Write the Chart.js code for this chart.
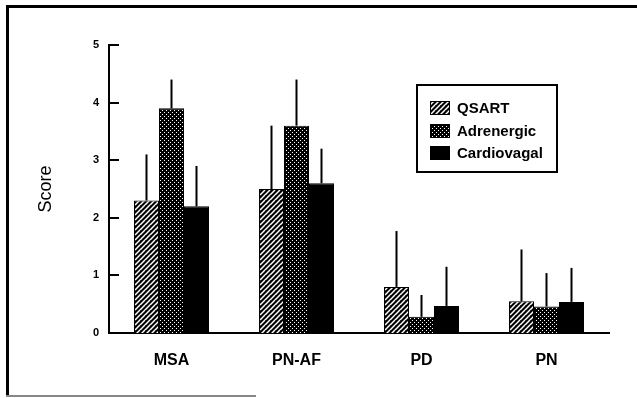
<!DOCTYPE html>
<html>
<head>
<meta charset="utf-8">
<script src="https://cdn.jsdelivr.net/npm/chart.js@4.4.1/dist/chart.umd.min.js"></script>
<style>
  html, body { margin: 0; padding: 0; background: #fff; }
  #wrap { width: 637px; height: 398px; position: relative; }
</style>
</head>
<body>
<div id="wrap"><canvas id="c" width="637" height="398"></canvas></div>
<script>
// ---- data ----
const categories = ['MSA', 'PN-AF', 'PD', 'PN'];
const seriesNames = ['QSART', 'Adrenergic', 'Cardiovagal'];
const qsart = [2.3, 2.5, 0.8, 0.55];
const qsartSD = [0.8, 1.1, 0.97, 0.9];
const adrenergic = [3.9, 3.6, 0.28, 0.46];
const adrenergicSD = [0.5, 0.8, 0.38, 0.58];
const cardiovagal = [2.2, 2.6, 0.47, 0.54];
const cardiovagalSD = [0.7, 0.6, 0.68, 0.59];
const yTicks = [0, 1, 2, 3, 4, 5];

// ---- fill patterns ----
function hatchPattern() {
  const c = document.createElement('canvas');
  c.width = 5; c.height = 5;
  const g = c.getContext('2d');
  g.fillStyle = '#000'; g.fillRect(0, 0, 5, 5);
  g.strokeStyle = '#fff'; g.lineWidth = 1.5;
  for (let k = -5; k <= 10; k += 5) {
    g.beginPath(); g.moveTo(k - 5, 10); g.lineTo(k + 5, 0); g.stroke();
  }
  return g.createPattern(c, 'repeat');
}
function stipplePattern() {
  const c = document.createElement('canvas');
  c.width = 4; c.height = 4;
  const g = c.getContext('2d');
  g.fillStyle = '#000'; g.fillRect(0, 0, 4, 4);
  g.fillStyle = '#fff';
  g.fillRect(0, 0, 1, 1);
  g.fillRect(2, 2, 1, 1);
  return g.createPattern(c, 'repeat');
}
const fills = [hatchPattern(), stipplePattern(), '#000'];
const values = [qsart, adrenergic, cardiovagal];
const sds = [qsartSD, adrenergicSD, cardiovagalSD];

Chart.defaults.font.family = "'Liberation Sans', Arial, sans-serif";
Chart.defaults.color = '#000';

const frame = {
  id: 'frame',
  beforeDraw(chart) {
    const ctx = chart.ctx;
    ctx.save();
    ctx.fillStyle = '#fff';
    ctx.fillRect(0, 0, chart.width, chart.height);
    ctx.fillStyle = '#000';
    ctx.fillRect(6, 5, chart.width - 6, 3);
    ctx.fillRect(6, 5, 3, 392);
    ctx.fillStyle = '#888';
    ctx.fillRect(6, 395, 250, 2);
    ctx.restore();
  }
};

const errorBars = {
  id: 'errorBars',
  afterDatasetsDraw(chart) {
    const ctx = chart.ctx, y = chart.scales.y;
    ctx.save();
    ctx.strokeStyle = '#000';
    ctx.lineWidth = 2;
    chart.data.datasets.forEach((ds, i) => {
      const meta = chart.getDatasetMeta(i);
      meta.data.forEach((bar, j) => {
        const top = y.getPixelForValue(ds.data[j] + ds.sd[j]);
        ctx.beginPath();
        ctx.moveTo(bar.x, bar.y);
        ctx.lineTo(bar.x, top);
        ctx.stroke();
      });
    });
    // inward ticks on the y axis
    const a = chart.chartArea;
    y.ticks.forEach(t => {
      const py = Math.round(y.getPixelForValue(t.value));
      ctx.fillStyle = '#000';
      ctx.fillRect(a.left, py - 1, 10, 2);
    });
    ctx.restore();
  }
};

const boxLegend = {
  id: 'boxLegend',
  afterDraw(chart) {
    const ctx = chart.ctx;
    const bx = 417, by = 85, bw = 140, bh = 87;
    ctx.save();
    ctx.fillStyle = '#fff';
    ctx.fillRect(bx, by, bw, bh);
    ctx.strokeStyle = '#000';
    ctx.lineWidth = 2;
    ctx.strokeRect(bx, by, bw, bh);
    ctx.font = "bold 15px 'Liberation Sans', Arial, sans-serif";
    ctx.textBaseline = 'middle';
    const rows = [108, 131, 153];
    chart.data.datasets.forEach((ds, i) => {
      ctx.fillStyle = ds.backgroundColor;
      ctx.fillRect(430, rows[i] - 7, 20, 14);
      ctx.strokeStyle = '#000'; ctx.lineWidth = 1;
      ctx.strokeRect(430.5, rows[i] - 6.5, 19, 13);
      ctx.fillStyle = '#000';
      ctx.fillText(ds.label, 457, rows[i] + 1);
    });
    ctx.restore();
  }
};

new Chart(document.getElementById('c'), {
  type: 'bar',
  data: {
    labels: categories,
    datasets: seriesNames.map((name, i) => ({
      label: name,
      data: values[i],
      sd: sds[i],
      backgroundColor: fills[i],
      borderColor: '#000',
      borderWidth: 1,
      barPercentage: 1,
      categoryPercentage: 0.6
    }))
  },
  options: {
    responsive: false,
    animation: false,
    events: [],
    layout: { padding: { left: 0, top: 45, right: 28, bottom: 0 } },
    plugins: { legend: { display: false }, tooltip: { enabled: false } },
    scales: {
      x: {
        grid: { display: false, drawTicks: false },
        border: { display: true, color: '#000', width: 2 },
        ticks: { padding: 18, font: { size: 16, weight: 'bold' } },
        afterFit(s) { s.height = 65; }
      },
      y: {
        min: 0, max: 5,
        grid: { display: false, drawTicks: false },
        border: { display: true, color: '#000', width: 2 },
        afterBuildTicks(s) { s.ticks = yTicks.map(v => ({ value: v })); },
        ticks: { padding: 10, font: { size: 11, weight: 'bold' } },
        title: { display: true, text: 'Score', font: { size: 18 }, padding: { top: 35, bottom: 0 } },
        afterFit(s) { s.width = 109; }
      }
    }
  },
  plugins: [frame, errorBars, boxLegend]
});
</script>
</body>
</html>
